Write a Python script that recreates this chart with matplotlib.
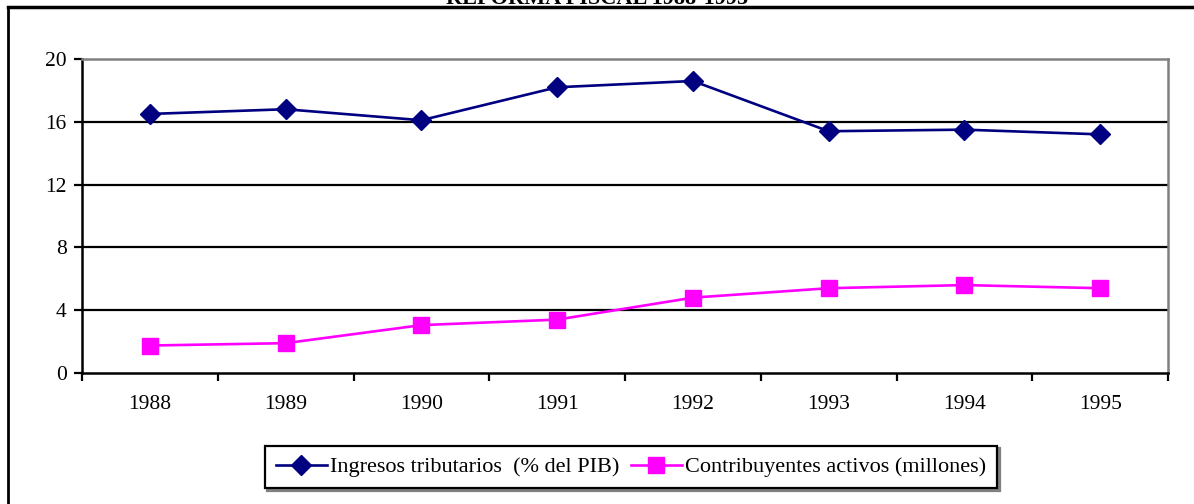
import numpy as np
import matplotlib.pyplot as plt

years = ['1988', '1989', '1990', '1991', '1992', '1993', '1994', '1995']
ingresos = [16.5, 16.8, 16.1, 18.2, 18.6, 15.4, 15.5, 15.2]
contribuyentes = [1.75, 1.9, 3.05, 3.4, 4.8, 5.4, 5.6, 5.4]
y_ticks = [0, 4, 8, 12, 16, 20]

plt.rcParams['font.family'] = ['Liberation Serif', 'DejaVu Serif']

W, H = 1194, 504
fig = plt.figure(figsize=(W / 100, H / 100), dpi=100)

# outer chart frame (top and left edges visible, rest cut)
fig.add_artist(plt.Line2D([8 / W, 8 / W], [0, 1 - 7 / H], transform=fig.transFigure,
                          color='black', lw=2))
fig.add_artist(plt.Line2D([8 / W, 1193 / W], [1 - 7 / H, 1 - 7 / H], transform=fig.transFigure,
                          color='black', lw=2.5))

# title, clipped at the top of the image
fig.text(0.5, 1 - 4 / H, 'REFORMA FISCAL 1988-1995', ha='center', va='baseline',
         fontsize=16, fontweight='bold')

ax = fig.add_axes([82 / W, 1 - 373 / H, (1168 - 82) / W, (373 - 59) / H])
x = np.arange(len(years))

ax.plot(x, ingresos, color='#000080', lw=1.9, marker='D', markersize=10,
        label='Ingresos tributarios  (% del PIB)', zorder=3, clip_on=False)
ax.plot(x, contribuyentes, color='#FF00FF', lw=1.9, marker='s', markersize=11,
        label='Contribuyentes activos (millones)', zorder=3, clip_on=False)

ax.set_xlim(-0.5, len(years) - 0.5)
ax.set_ylim(0, 20)
ax.set_yticks(y_ticks)
ax.set_yticklabels([str(v) for v in y_ticks], fontsize=15.5)
for v in y_ticks[1:-1]:
    ax.axhline(v, color='black', lw=1.6, zorder=1)

ax.set_xticks(np.arange(-0.5, len(years), 1.0))
ax.set_xticklabels([])
ax.set_xticks(x, minor=True)
ax.set_xticklabels(years, minor=True, fontsize=15.5)
ax.tick_params(axis='x', which='major', direction='out', length=6, width=1.6, color='black')
ax.tick_params(axis='x', which='minor', length=0, pad=16)
ax.tick_params(axis='y', direction='out', length=6, width=1.6, pad=5)

for side in ['left', 'bottom']:
    ax.spines[side].set_color('black')
    ax.spines[side].set_linewidth(1.8)
for side in ['top', 'right']:
    ax.spines[side].set_color('#808080')
    ax.spines[side].set_linewidth(1.8)

# legend with offset grey shadow
leg = fig.legend(loc='center', bbox_to_anchor=(631 / W, 1 - 467 / H), ncol=2,
                 fontsize=16, frameon=True, fancybox=False, handlelength=2.3,
                 columnspacing=0.5, handletextpad=0.15, borderpad=0.5,
                 shadow={'color': '#808080', 'alpha': 1, 'ox': 2, 'oy': -2})
leg.get_frame().set_edgecolor('black')
leg.get_frame().set_linewidth(1.6)

fig.savefig('out.png', dpi=100)
